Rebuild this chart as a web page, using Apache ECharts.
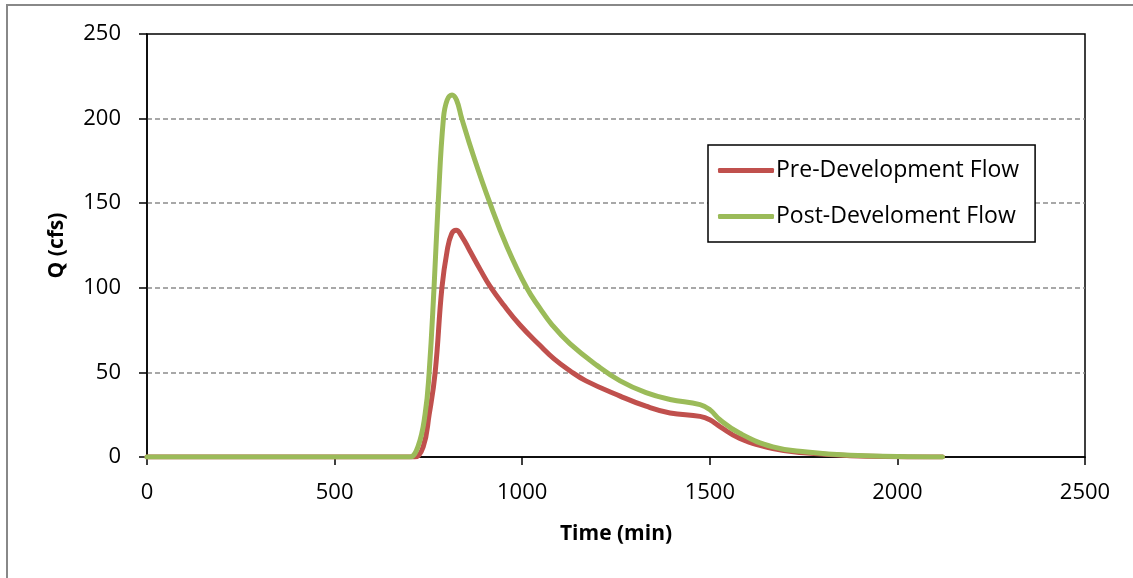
<!DOCTYPE html>
<html>
<head>
<meta charset="utf-8">
<script src="https://cdn.jsdelivr.net/npm/echarts@6/dist/echarts.min.js"></script>
<style>
  html, body { margin: 0; padding: 0; background: #fff; }
  #chart { width: 1133px; height: 578px; }
</style>
</head>
<body>
<div id="chart"></div>
<script>
// values (time in min, flow in cfs)
const preTime = [0, 700, 714, 736, 752, 768, 786, 800, 812, 824, 840, 860, 890, 914, 950, 994, 1047, 1085, 1127, 1170, 1261, 1330, 1394, 1474, 1500, 1527, 1580, 1668, 1759, 1874, 2000, 2120]
const preFlow = [0, 0, 0, 6, 25, 50, 100, 122, 132, 134, 130, 122, 110, 101, 90, 78, 66, 58, 51, 45, 36, 30, 26, 24, 22, 18, 11, 5, 2.3, 0.8, 0.2, 0]

const postTime = [0, 690, 701, 722, 741, 752, 765, 776, 790, 800, 813, 825, 839, 870, 914, 960, 1012, 1047, 1080, 1127, 1200, 1261, 1330, 1394, 1474, 1500, 1527, 1580, 1668, 1759, 1874, 2000, 2120]
const postFlow = [0, 0, 0, 6, 25, 50, 100, 150, 200, 211, 214, 211, 200, 178, 150, 124, 100, 88, 78, 67, 54, 45, 38, 34, 31, 28, 22, 14, 6, 3, 1, 0.3, 0]

const seriesNames = ['Pre-Development Flow', 'Post-Develoment Flow']
const seriesColors = ['#C0504D', '#9BBB59']

const font = 'Open Sans'
const textColor = '#000'

function pairs(xs, ys) {
  return xs.map((x, i) => [x, ys[i]])
}

const chart = echarts.init(document.getElementById('chart'))

const option = {
  animation: false,
  textStyle: { fontFamily: font },
  graphic: [
    {
      type: 'rect',
      shape: { x: 7, y: 5, width: 1140, height: 600 },
      style: { fill: 'none', stroke: '#888', lineWidth: 2 },
      silent: true,
    },
  ],
  grid: {
    left: 147,
    right: 48,
    top: 34,
    bottom: 121,
    show: true,
    borderColor: '#000',
    borderWidth: 1.5,
  },
  legend: {
    orient: 'vertical',
    left: 708,
    top: 145,
    padding: [14, 16, 14, 10],
    itemGap: 23,
    itemWidth: 56,
    itemHeight: 5,
    icon: 'roundRect',
    borderColor: '#000',
    borderWidth: 1.5,
    backgroundColor: '#fff',
    textStyle: { fontFamily: font, fontSize: 23, color: textColor, padding: [0, 0, 0, -3] },
    data: seriesNames,
  },
  xAxis: {
    type: 'value',
    min: 0,
    max: 2500,
    interval: 500,
    name: 'Time (min)',
    nameLocation: 'middle',
    nameGap: 67,
    nameTextStyle: { fontFamily: font, fontSize: 21, fontWeight: 'bold', color: textColor },
    axisLine: { show: true, lineStyle: { color: '#000', width: 1.5 } },
    axisTick: { show: true, inside: false, length: 8, lineStyle: { color: '#000', width: 1.5 } },
    axisLabel: { fontFamily: font, fontSize: 22, color: textColor, margin: 25, formatter: v => String(v) },
    splitLine: { show: false },
  },
  yAxis: {
    type: 'value',
    min: 0,
    max: 250,
    interval: 50,
    name: 'Q (cfs)',
    nameLocation: 'middle',
    nameGap: 79,
    nameTextStyle: { fontFamily: font, fontSize: 21, fontWeight: 'bold', color: textColor },
    axisLine: { show: true, lineStyle: { color: '#000', width: 1.5 } },
    axisTick: { show: true, inside: false, length: 8, lineStyle: { color: '#000', width: 1.5 } },
    axisLabel: { fontFamily: font, fontSize: 22, color: textColor, margin: 26, formatter: v => String(v) },
    splitLine: {
      show: true,
      showMinLine: false,
      showMaxLine: false,
      lineStyle: { color: '#8c8c8c', width: 1.5, type: [5, 3] },
    },
  },
  series: [
    {
      name: seriesNames[0],
      type: 'line',
      data: pairs(preTime, preFlow),
      smooth: 0.45,
      showSymbol: false,
      color: seriesColors[0],
      lineStyle: { width: 5, cap: 'round', join: 'round' },
    },
    {
      name: seriesNames[1],
      type: 'line',
      data: pairs(postTime, postFlow),
      smooth: 0.45,
      showSymbol: false,
      color: seriesColors[1],
      lineStyle: { width: 5, cap: 'round', join: 'round' },
    },
  ],
}

chart.setOption(option)
</script>
</body>
</html>
